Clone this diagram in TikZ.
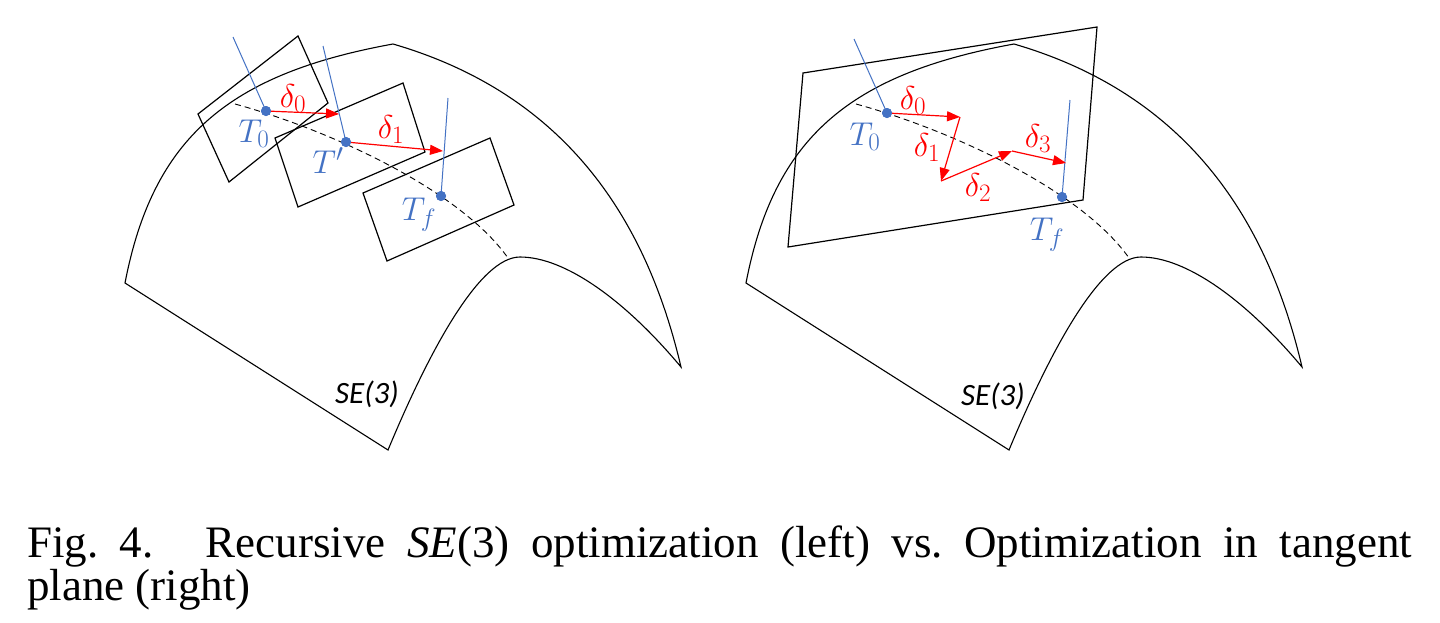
\RequirePackage{fix-cm}
\documentclass[tikz,border=0pt]{standalone}
\usepackage{fontspec}
\newfontfamily\capfont{Liberation Serif}
\newfontfamily\sefont{Carlito}
\usetikzlibrary{arrows.meta}
\def\defaultscriptratio{.76}
\definecolor{tblue}{HTML}{4472C4}
\definecolor{tred}{HTML}{FF0000}
\tikzset{
  surf/.style={draw=black, line width=1.1pt, line join=miter},
  geo/.style={draw=black, line width=0.9pt, dash pattern=on 6pt off 4pt},
  tplane/.style={draw=black, line width=1.2pt, line join=miter},
  normal/.style={draw=tblue, line width=1pt},
  delta/.style={draw=tred, line width=1.2pt, -{Triangle[length=13pt,width=10pt]}},
  dot/.style={circle, fill=tblue, inner sep=0pt, minimum size=10pt},
  blab/.style={text=tblue, font=\fontsize{33}{36}\selectfont, inner sep=0pt},
  rlab/.style={text=tred, font=\fontsize{33}{36}\selectfont, inner sep=0pt},
  selab/.style={font=\sefont\itshape\fontsize{31}{34}\selectfont, inner sep=0pt},
  captxt/.style={font=\capfont\fontsize{45}{43}\selectfont\frenchspacing, inner sep=0pt, anchor=base west},
}
\newcommand\drawsurface{%
  \draw[surf] (125,283) .. controls (153,138) and (228,74) .. (393,44)
    .. controls (575,97) and (649,231) .. (681,367)
    .. controls (625,300) and (565,257) .. (520,257)
    .. controls (480,257) and (430,349) .. (388,450)
    -- cycle;
  \draw[geo] (235,104) .. controls (330,130) and (460,190) .. (508,258);
}
\begin{document}
\begin{tikzpicture}[x=1pt,y=-1pt]
  \useasboundingbox (0,0) rectangle (1440,622);
  \fill[white] (0,0) rectangle (1440,622);

  % ---------- left panel ----------
  \drawsurface
  \draw[tplane] (198,114) -- (298,36) -- (328,103) -- (229,182) -- cycle;
  \draw[tplane] (275,138) -- (403,83) -- (425,152) -- (298,207) -- cycle;
  \draw[tplane] (363,193) -- (490,138) -- (514,205) -- (387,261) -- cycle;

  \node[dot] (T0L) at (266,111) {};
  \node[dot] (T1L) at (346,142) {};
  \node[dot] (TfL) at (441,196) {};
  \coordinate (n0L) at (233,37);
  \coordinate (n1L) at (323,46);
  \coordinate (nfL) at (448,98);
  \coordinate (a0L) at (339,114);
  \coordinate (a1L) at (443,151);

  \draw[normal] (n0L) -- (T0L.center);
  \draw[normal] (n1L) -- (T1L.center);
  \draw[normal] (nfL) -- (TfL.center);
  \draw[delta] (T0L) -- (a0L);
  \draw[delta] (T1L) -- (a1L);
  \node[dot] at (T0L) {};
  \node[dot] at (T1L) {};
  \node[dot] at (TfL) {};

  \node[rlab] (d0L) at (293,99) {$\delta_0$};
  \node[rlab] (d1L) at (391,130) {$\delta_1$};
  \node[blab] (l0L) at (254,134) {$T_0$};
  \node[blab] (l1L) at (328,161) {$T'$};
  \node[blab] (lfL) at (419,215) {$T_f$};
  \node[selab] (seL) at (367,394) {SE(3)};

  % ---------- right panel ----------
  \begin{scope}[shift={(621,0)}]
    \drawsurface
  \end{scope}
  \draw[tplane] (803,73) -- (1097,27) -- (1083,200) -- (788,247) -- cycle;

  \node[dot] (T0R) at (887,113) {};
  \node[dot] (TfR) at (1062,197) {};
  \coordinate (n0R) at (854,39);
  \coordinate (nfR) at (1070,100);
  \coordinate (p1) at (960,117);
  \coordinate (p2) at (941,181);
  \coordinate (p3) at (1012,151);
  \coordinate (p4) at (1066,163);

  \draw[normal] (n0R) -- (T0R.center);
  \draw[normal] (nfR) -- (TfR.center);
  \draw[delta] (T0R) -- (p1);
  \draw[delta] (p1) -- (p2);
  \draw[delta] (p2) -- (p3);
  \draw[delta] (p3) -- (p4);
  \node[dot] at (T0R) {};
  \node[dot] at (TfR) {};

  \node[rlab] (d0R) at (913,101) {$\delta_0$};
  \node[rlab] (d1R) at (927,148) {$\delta_1$};
  \node[rlab] (d2R) at (978,188) {$\delta_2$};
  \node[rlab] (d3R) at (1038,139) {$\delta_3$};
  \node[blab] (l0R) at (865,137) {$T_0$};
  \node[blab] (lfR) at (1047,235) {$T_f$};
  \node[selab] (seR) at (993,396) {SE(3)};

  % ---------- caption ----------
  \node[captxt] (cap1) at (27,557) {\makebox[1385pt][s]{Fig.~4.\hspace{52pt}Recursive \textit{SE}(3) optimization (left) vs. Optimization in tangent}};
  \node[captxt] (cap2) at (27,600) {plane (right)};
\end{tikzpicture}
\end{document}
